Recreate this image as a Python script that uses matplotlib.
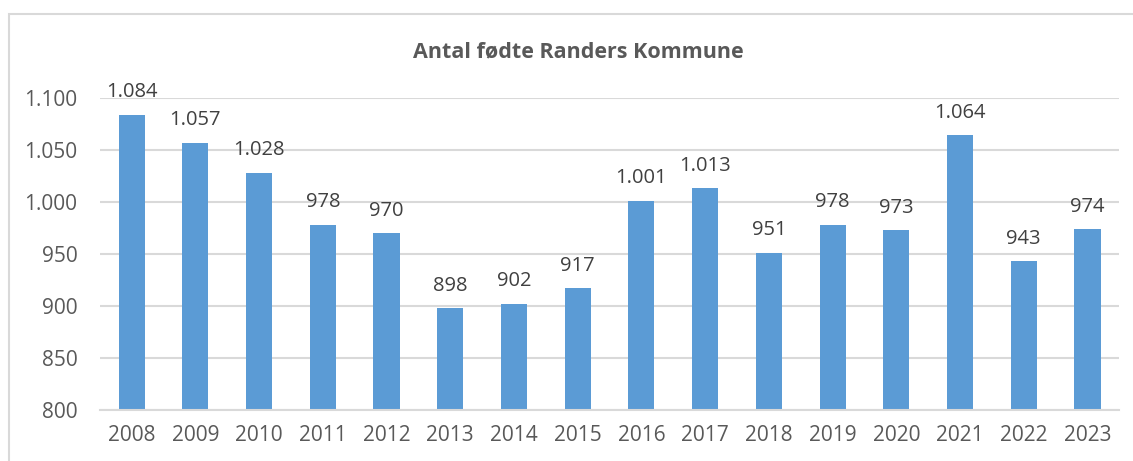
import matplotlib.pyplot as plt
from matplotlib.patches import Rectangle

years = ["2008", "2009", "2010", "2011", "2012", "2013", "2014", "2015",
         "2016", "2017", "2018", "2019", "2020", "2021", "2022", "2023"]
births = [1084, 1057, 1028, 978, 970, 898, 902, 917,
          1001, 1013, 951, 978, 973, 1064, 943, 974]
yticks = [800, 850, 900, 950, 1000, 1050, 1100]


def dk(v):
    # danish thousands separator
    return f"{v:,}".replace(",", ".")


plt.rcParams['font.family'] = ['Open Sans', 'DejaVu Sans']
txt = '#595959'
grid = '#d9d9d9'

fig = plt.figure(figsize=(11.33, 4.61), dpi=100)
ax = fig.add_axes([0.088, 0.1106, 0.9, 0.6768])

x = range(len(years))
ax.bar(x, births, width=0.41, color='#5B9BD5', zorder=2)
for i, v in zip(x, births):
    ax.text(i, v + 12, dk(v), ha='center', va='bottom', fontsize=14.5,
            color='#404040', clip_on=False)

ax.set_ylim(800, 1100)
ax.set_xlim(-0.5, len(years) - 0.5)
ax.set_yticks(yticks)
ax.set_yticklabels([dk(t) for t in yticks])
ax.set_xticks(list(x))
ax.set_xticklabels(years)
ax.tick_params(axis='both', length=0, labelsize=15, labelcolor=txt)
ax.tick_params(axis='y', pad=16)
ax.tick_params(axis='x', pad=11)
ax.grid(axis='y', color=grid, linewidth=1.5, zorder=0)
for s in ['top', 'right', 'left']:
    ax.spines[s].set_visible(False)
ax.spines['bottom'].set_color(grid)
ax.spines['bottom'].set_linewidth(1.5)

fig.text(578 / 1133, 1 - 52 / 461, "Antal fødte Randers Kommune",
         ha='center', va='center', fontsize=15.5, fontweight='bold', color=txt)

# chart frame, cropped at right and bottom
fig.patches.append(Rectangle((9 / 1133, -0.1), 1.2, 1 - 14 / 461 + 0.1,
                             transform=fig.transFigure, fill=False,
                             edgecolor=grid, linewidth=1.5))

fig.savefig('out.png', dpi=100)
